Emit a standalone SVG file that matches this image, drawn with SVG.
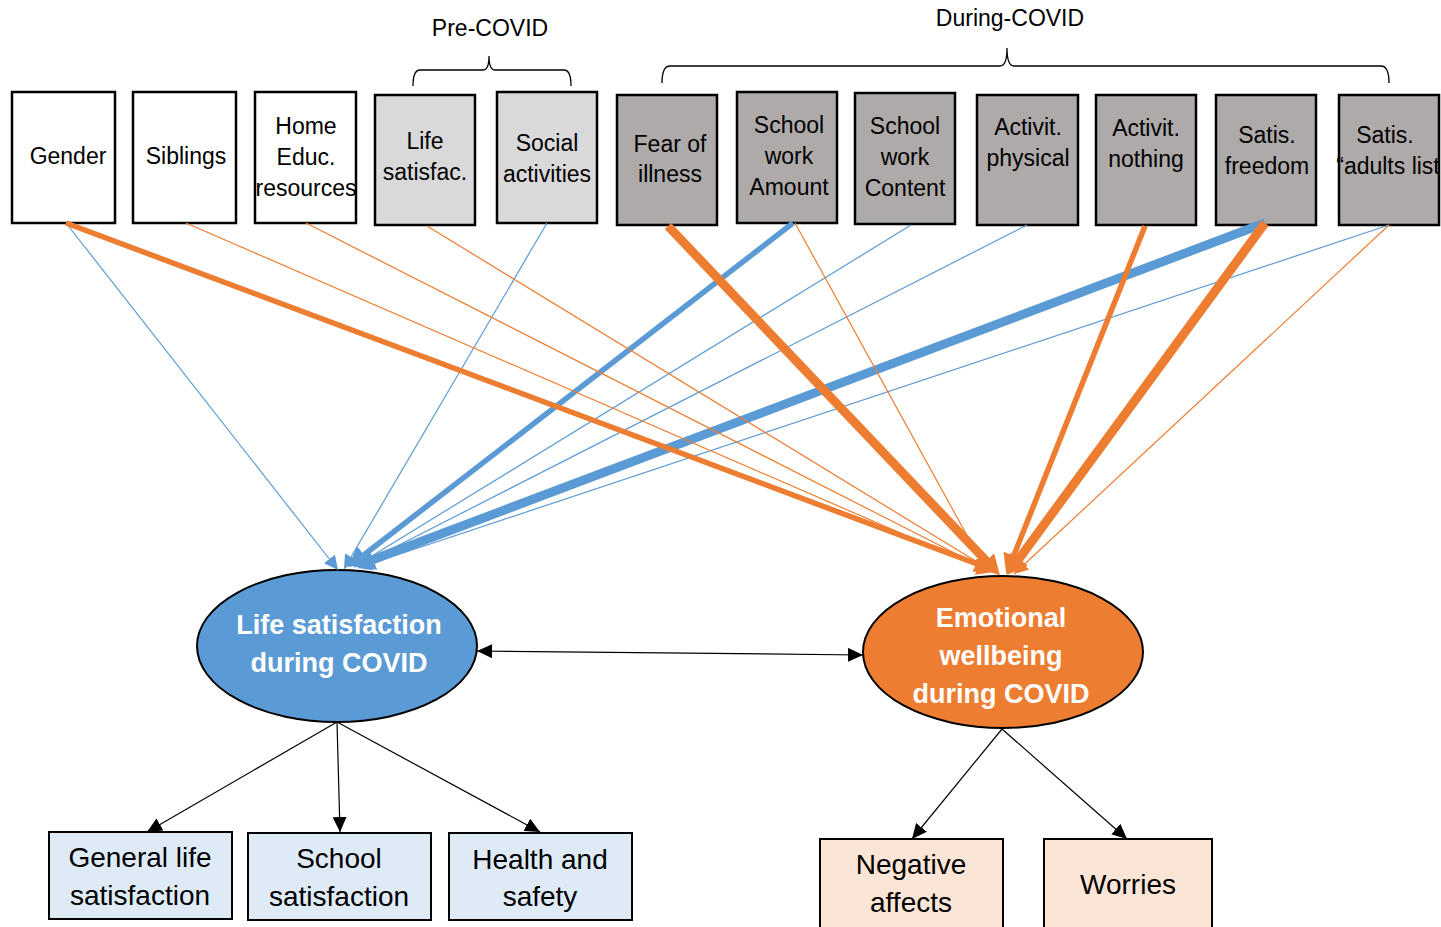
<svg xmlns="http://www.w3.org/2000/svg" width="1441" height="927" viewBox="0 0 1441 927">
<style>
text{font-family:"Liberation Sans",Arial,sans-serif;fill:#000;text-anchor:middle}
.t{font-size:23px}
.b{font-size:28px}
.e{font-size:27px;font-weight:bold;fill:#fff}
.box{stroke:#000;stroke-width:2.5}
.w{fill:#fff}.pre{fill:#d9d9d9}.dur{fill:#aeaaaa}
.ls{fill:#deebf7;stroke:#000;stroke-width:2}
.ew{fill:#fbe5d6;stroke:#000;stroke-width:2}
.brace{fill:none;stroke:#000;stroke-width:1.3}
.bl{stroke:#5b9bd5;fill:none}
.or{stroke:#ed7d31;fill:none}
.k{stroke:#000;stroke-width:1.2;fill:none}
.s{stroke-width:1.2}.m{stroke-width:5.5}.h{stroke-width:9}
</style>
<defs>
<marker id="abs" markerUnits="userSpaceOnUse" markerWidth="16" markerHeight="14" refX="14" refY="7" orient="auto"><path d="M0,0 L14,7 L0,14 z" fill="#5b9bd5"/></marker>
<marker id="abl" markerUnits="userSpaceOnUse" markerWidth="22" markerHeight="22" refX="10" refY="11" orient="auto"><path d="M0,0 L20,11 L0,22 z" fill="#5b9bd5"/></marker>
<marker id="aos" markerUnits="userSpaceOnUse" markerWidth="16" markerHeight="14" refX="14" refY="7" orient="auto"><path d="M0,0 L14,7 L0,14 z" fill="#ed7d31"/></marker>
<marker id="aol" markerUnits="userSpaceOnUse" markerWidth="22" markerHeight="22" refX="10" refY="11" orient="auto"><path d="M0,0 L20,11 L0,22 z" fill="#ed7d31"/></marker>
<marker id="ak" markerUnits="userSpaceOnUse" markerWidth="16" markerHeight="14" refX="15" refY="7" orient="auto"><path d="M0,0 L15,7 L0,14 z" fill="#000"/></marker>
<marker id="aks" markerUnits="userSpaceOnUse" markerWidth="16" markerHeight="14" refX="0" refY="7" orient="auto"><path d="M15,0 L0,7 L15,14 z" fill="#000"/></marker>
</defs>

<g id="headers">
<text class="t" x="490" y="36">Pre-COVID</text>
<path class="brace" d="M413,86 Q413,70 420,70 L483,70 Q489,70 489,56 Q489,70 495,70 L564,70 Q571,70 571,86"/>
<text class="t" x="1010" y="26">During-COVID</text>
<path class="brace" d="M662,83 Q662,66 670,66 L1000,66 Q1007,66 1007,48 Q1007,66 1014,66 L1381,66 Q1389,66 1389,83"/>
</g>

<g id="gender"><rect class="box w" x="12" y="92" width="103" height="131"/><text class="t" x="68" y="164">Gender</text></g>
<g id="siblings"><rect class="box w" x="133" y="92" width="103" height="131"/><text class="t" x="186" y="164">Siblings</text></g>
<g id="home"><rect class="box w" x="255" y="92" width="101" height="131"/><text class="t" x="306" y="134">Home</text><text class="t" x="306" y="165">Educ.</text><text class="t" x="306" y="196">resources</text></g>
<g id="lifesat-pre"><rect class="box pre" x="375" y="95" width="100" height="130"/><text class="t" x="425" y="149">Life</text><text class="t" x="425" y="180">satisfac.</text></g>
<g id="social"><rect class="box pre" x="497" y="92" width="100" height="131"/><text class="t" x="547" y="151">Social</text><text class="t" x="547" y="182">activities</text></g>
<g id="fear"><rect class="box dur" x="617" y="95" width="100" height="130"/><text class="t" x="670" y="152">Fear of</text><text class="t" x="670" y="182">illness</text></g>
<g id="amount"><rect class="box dur" x="737" y="92" width="100" height="131"/><text class="t" x="789" y="133">School</text><text class="t" x="789" y="164">work</text><text class="t" x="789" y="195">Amount</text></g>
<g id="content"><rect class="box dur" x="855" y="93" width="100" height="131"/><text class="t" x="905" y="134">School</text><text class="t" x="905" y="165">work</text><text class="t" x="905" y="196">Content</text></g>
<g id="physical"><rect class="box dur" x="977" y="95" width="101" height="130"/><text class="t" x="1028" y="135">Activit.</text><text class="t" x="1028" y="166">physical</text></g>
<g id="nothing"><rect class="box dur" x="1096" y="95" width="100" height="130"/><text class="t" x="1146" y="136">Activit.</text><text class="t" x="1146" y="167">nothing</text></g>
<g id="freedom"><rect class="box dur" x="1216" y="95" width="100" height="130"/><text class="t" x="1267" y="143">Satis.</text><text class="t" x="1267" y="174">freedom</text></g>
<g id="adults"><rect class="box dur" x="1339" y="95" width="100" height="130"/><text class="t" x="1385" y="143">Satis.</text><text class="t" x="1388" y="174">“adults list</text></g>

<g id="life-covid"><ellipse cx="337" cy="646" rx="140" ry="76" fill="#5b9bd5" stroke="#000" stroke-width="2"/><text class="e" x="339" y="634">Life satisfaction</text><text class="e" x="339" y="672">during COVID</text></g>
<g id="emo-covid"><ellipse cx="1003" cy="652" rx="140" ry="76" fill="#ed7d31" stroke="#000" stroke-width="2"/><text class="e" x="1001" y="627">Emotional</text><text class="e" x="1001" y="665">wellbeing</text><text class="e" x="1001" y="703">during COVID</text></g>

<g id="general"><rect class="ls" x="49" y="832" width="183" height="87"/><text class="b" x="140" y="867">General life</text><text class="b" x="140" y="905">satisfaction</text></g>
<g id="school"><rect class="ls" x="248" y="833" width="183" height="87"/><text class="b" x="339" y="868">School</text><text class="b" x="339" y="906">satisfaction</text></g>
<g id="health"><rect class="ls" x="449" y="833" width="183" height="87"/><text class="b" x="540" y="869">Health and</text><text class="b" x="540" y="906">safety</text></g>
<g id="negative"><rect class="ew" x="820" y="839" width="183" height="90"/><text class="b" x="911" y="874">Negative</text><text class="b" x="911" y="912">affects</text></g>
<g id="worries"><rect class="ew" x="1044" y="839" width="168" height="90"/><text class="b" x="1128" y="894">Worries</text></g>

<g id="connectors">
<line class="bl s" x1="66" y1="223" x2="338" y2="570" marker-end="url(#abs)"/>
<line class="bl s" x1="547" y1="223" x2="344" y2="569" marker-end="url(#abs)"/>
<line class="bl s" x1="911" y1="225" x2="354" y2="567" marker-end="url(#abs)"/>
<line class="bl s" x1="1027" y1="225" x2="356" y2="567" marker-end="url(#abs)"/>
<line class="bl s" x1="1389" y1="225" x2="358" y2="568" marker-end="url(#abs)"/>
<line class="bl m" x1="793" y1="223" x2="356" y2="561" marker-end="url(#abl)"/>
<line class="bl h" x1="1265" y1="223" x2="364" y2="563" marker-end="url(#abl)"/>

<line class="or s" x1="186" y1="223" x2="988" y2="571" marker-end="url(#aos)"/>
<line class="or s" x1="306" y1="223" x2="990" y2="571" marker-end="url(#aos)"/>
<line class="or s" x1="427" y1="226" x2="992" y2="571" marker-end="url(#aos)"/>
<line class="or s" x1="795" y1="223" x2="986" y2="570" marker-end="url(#aos)"/>
<line class="or s" x1="1389" y1="225" x2="1014" y2="574" marker-end="url(#aos)"/>
<line class="or m" x1="66" y1="223" x2="988" y2="568" marker-end="url(#aol)"/>
<line class="or h" x1="668" y1="226" x2="993" y2="568" marker-end="url(#aol)"/>
<line class="or m" x1="1145" y1="226" x2="1010" y2="565" marker-end="url(#aol)"/>
<line class="or h" x1="1265" y1="223" x2="1013" y2="567" marker-end="url(#aol)"/>

<line class="k" x1="477" y1="651" x2="863" y2="655" marker-start="url(#aks)" marker-end="url(#ak)"/>
<line class="k" x1="337" y1="722" x2="147" y2="832" marker-end="url(#ak)"/>
<line class="k" x1="337" y1="722" x2="340" y2="832" marker-end="url(#ak)"/>
<line class="k" x1="337" y1="722" x2="540" y2="832" marker-end="url(#ak)"/>
<line class="k" x1="1002" y1="729" x2="912" y2="839" marker-end="url(#ak)"/>
<line class="k" x1="1002" y1="729" x2="1127" y2="839" marker-end="url(#ak)"/>
</g>
</svg>
